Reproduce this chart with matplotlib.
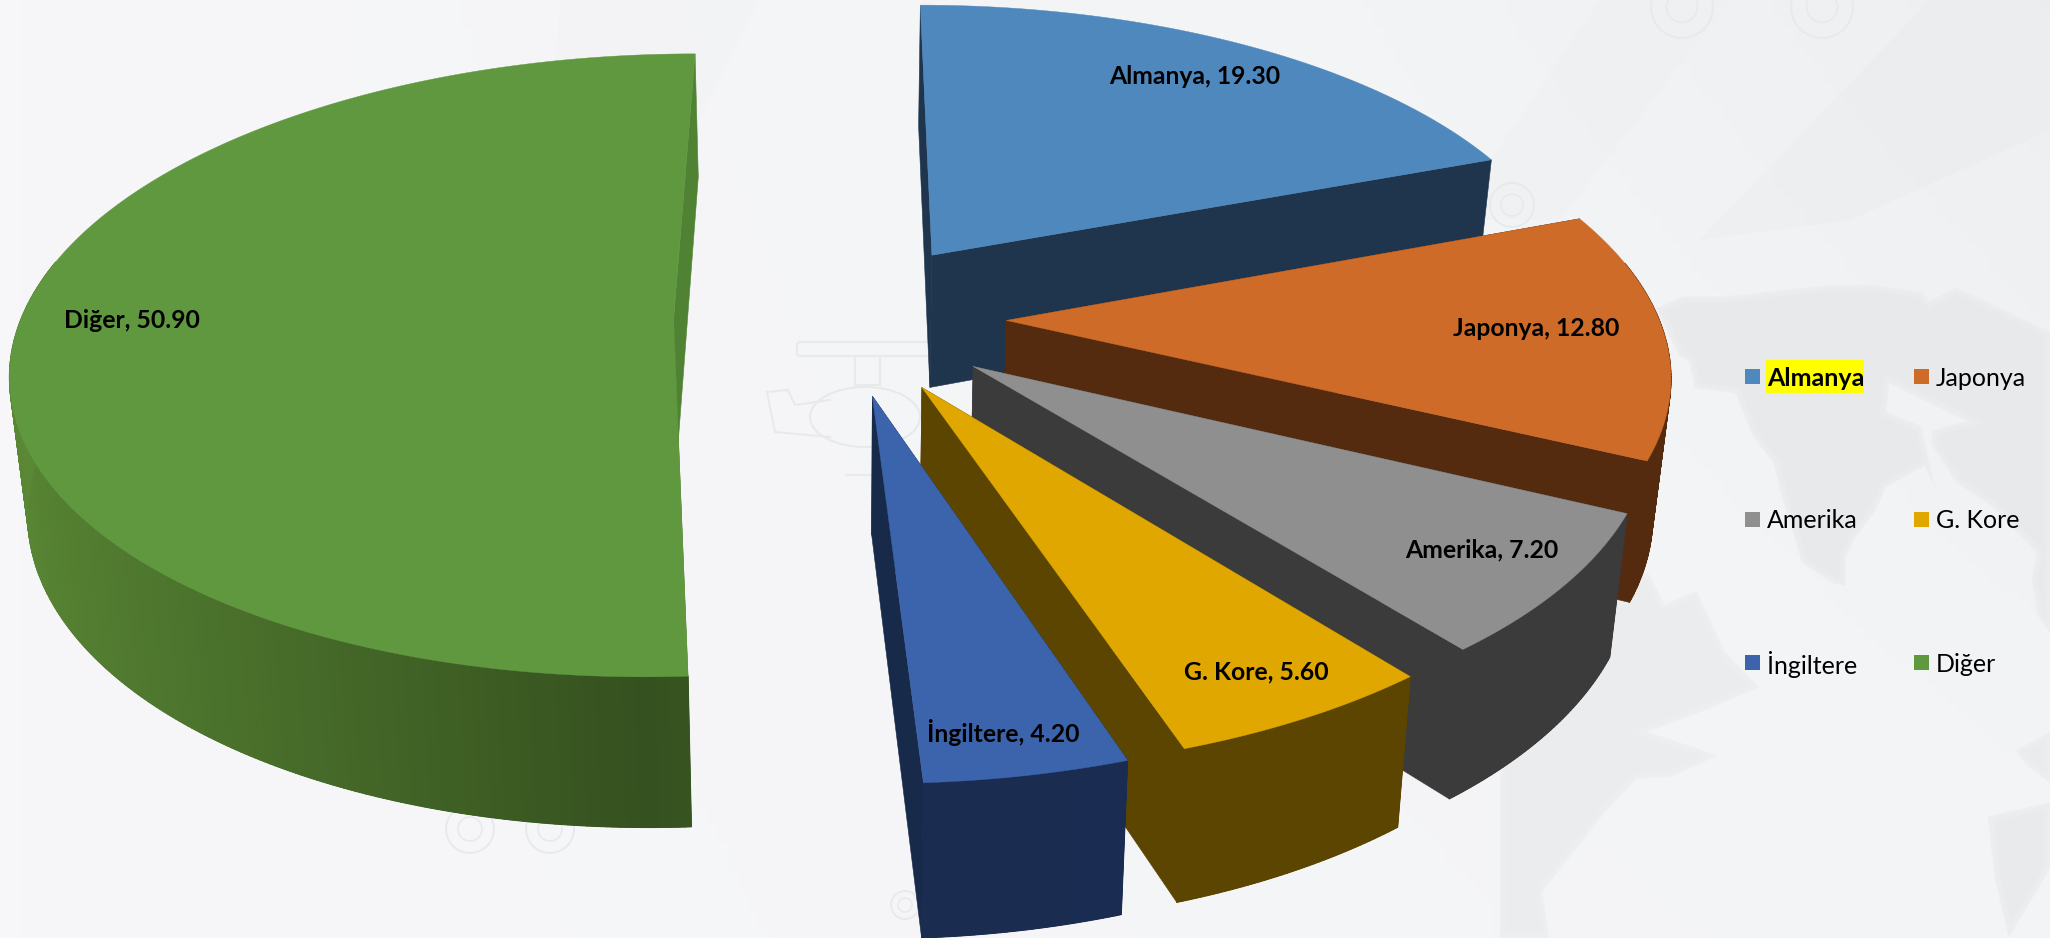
import numpy as np
import matplotlib
matplotlib.use('Agg')
import matplotlib.pyplot as plt
from matplotlib.collections import PolyCollection
from matplotlib.colors import to_rgb, LinearSegmentedColormap
from matplotlib.patches import Circle, FancyBboxPatch, Ellipse, Polygon, Rectangle

plt.rcParams['font.family'] = ['Lato', 'DejaVu Sans']

# Share of each country
categories = ['Almanya', 'Japonya', 'Amerika', 'G. Kore', 'İngiltere', 'Diğer']
values = [19.30, 12.80, 7.20, 5.60, 4.20, 50.90]

top_colors = ['#4F88BC', '#CE6B28', '#8F8F8F', '#DFA700', '#3C64AC', '#60983F']
wall_dark = ['#1F354E', '#552B10', '#3B3B3B', '#5C4500', '#1A2C50', '#35511F']
wall_light = ['#1F354E', '#552B10', '#3B3B3B', '#5C4500', '#1B2D52', '#5A8835']
radial_colors = ['#1F354E', '#552B10', '#3B3B3B', '#5C4500', '#172A4A', '#508234']

# Label anchors and legend slots, in pixels
label_xy = [(1195, 76), (1536, 328), (1482, 550), (1256, 672), (1003, 733), (132, 320)]
legend_x = [1745, 1914, 1745, 1914, 1745, 1914]
legend_y = [377, 377, 520, 520, 663, 663]

# Pie geometry: ground plane to screen
CX, CY = 840, 317
RX, RY = 652, 304
PERSP = 0.148
EXPLODE = 0.255
DEPTH = 135
LEAN = 0.022


def project(gx, gy):
    w = 1 + PERSP * gy
    return CX + RX * gx / w, CY - RY * gy / w, w


def drop(x, y, w):
    """ Bottom-face point below a top-face point """
    return x + (CX - x) * LEAN, y + DEPTH / w ** 0.68


def slice_points(start, end):
    """ Apex and outer arc of one slice, angles in degrees clockwise from north """
    mid = np.radians((start + end) / 2)
    ax, ay = EXPLODE * np.sin(mid), EXPLODE * np.cos(mid)
    theta = np.radians(np.linspace(start, end, int((end - start) * 2) + 2))
    apex = project(ax, ay)
    arc = project(ax + np.sin(theta), ay + np.cos(theta))
    return apex, arc, theta


def draw_slice(ax, start, end, top, dark, light, radial):
    apex, arc, theta = slice_points(start, end)
    ax_x, ax_y, ax_w = apex
    x, y, w = arc
    bx, by = drop(x, y, w)
    abx, aby = drop(ax_x, ax_y, ax_w)

    # radial walls go first, the rim and the top face are painted over them
    for i in (-1, 0):
        wall = [(ax_x, ax_y), (x[i], y[i]), (bx[i], by[i]), (abx, aby)]
        ax.add_patch(Polygon(wall, closed=True, fc=radial, ec=radial, lw=0.4))

    # only the part of the rim that faces the viewer
    front = np.cos(theta) < 0.2
    if front.sum() > 1:
        c0, c1 = np.array(to_rgb(dark)), np.array(to_rgb(light))
        rim = list(zip(x[front], y[front])) + list(zip(bx[front][::-1], by[front][::-1]))
        ax.add_patch(Polygon(rim, closed=True, fc=(c0 + c1) / 2, ec=(c0 + c1) / 2, lw=0.3))
        quads = []
        shades = []
        idx = np.where(front)[0]
        for i in idx[:-1]:
            quads.append([(x[i], y[i]), (x[i + 1], y[i + 1]), (bx[i + 1], by[i + 1]), (bx[i], by[i])])
            t = abs(np.sin((theta[i] + theta[i + 1]) / 2))
            shades.append(c0 + (c1 - c0) * t)
        ax.add_collection(PolyCollection(quads, facecolors=shades, edgecolors=shades, linewidths=0.8))

    outline = [(ax_x, ax_y)] + list(zip(x, y))
    ax.add_patch(Polygon(outline, closed=True, fc=top, ec=top, lw=0.3))


def sheet(points):
    """ Map sheet units to pixels """
    return [(1500 + px / 2.85, 200 + py / 2.125) for px, py in points]


def draw_background(ax):
    shade = LinearSegmentedColormap.from_list('paper', ['#F7F7F9', '#F3F4F6', '#E9EAEC'])
    xx, yy = np.meshgrid(np.linspace(0, 1, 200), np.linspace(0, 1, 100))
    ax.imshow(0.45 * xx + 0.3 * (1 - yy) * xx, extent=(0, 2050, 938, 0), cmap=shade, vmin=0, vmax=1,
              aspect='auto', zorder=0)

    # soft diagonal sweeps
    for pts, col in [([(1600, 0), (1730, 0), (1560, 220), (1450, 220)], '#EDEEF0'),
                     ([(1930, 0), (2050, 0), (2050, 130), (1850, 220), (1700, 240)], '#E7E9EA'),
                     ([(560, 0), (760, 0), (640, 240), (540, 300)], '#F0F1F3'),
                     ([(260, 938), (420, 700), (640, 830), (500, 938)], '#F7F7F9')]:
        ax.add_patch(Polygon(pts, closed=True, fc=col, ec='none', alpha=0.3, zorder=0.5))

    # land masses with a feathered edge, the southern ones paler
    land = [
        [(445, 230), (520, 205), (640, 205), (950, 180), (1060, 180), (1200, 195), (1225, 215), (1300, 185),
         (1568, 280), (1568, 920), (1530, 880), (1515, 800), (1530, 750), (1400, 650), (1300, 600), (1230, 520),
         (1230, 490), (1330, 470), (1110, 390), (1100, 450), (1200, 480), (1240, 610), (1210, 565), (1100, 610),
         (1070, 660), (1010, 720), (985, 760), (985, 820), (950, 815), (860, 770), (800, 620), (780, 560),
         (720, 500), (670, 410), (555, 400), (540, 345), (510, 330)],
        [(340, 850), (420, 790), (470, 860), (560, 830), (640, 960), (740, 1035), (600, 1080), (420, 1130),
         (620, 1180), (490, 1225), (390, 1230), (300, 1300), (120, 1470), (140, 1568), (0, 1568), (0, 850)],
        [(1390, 1310), (1568, 1280), (1568, 1420), (1450, 1568), (1410, 1440)],
        [(1470, 1170), (1568, 1130), (1568, 1240), (1500, 1200)],
    ]
    land_alpha = [0.8, 0.6, 0.7, 0.6]
    for pts, alpha in zip(land, land_alpha):
        ax.add_patch(Polygon(sheet(pts), closed=True, fc='#E6E7E9', ec='none', alpha=alpha, zorder=0.6))
        for lw in (9, 5, 2):
            ax.add_patch(Polygon(sheet(pts), closed=True, fc='none', ec='#F3F4F6', lw=lw, alpha=0.22, zorder=0.62))

    # faint helicopter outline
    line = '#E8E9EB'
    ax.add_patch(FancyBboxPatch((800, 345), 128, 8, boxstyle='round,pad=3', fc='none', ec=line, lw=1.5, zorder=0.7))
    ax.add_patch(Ellipse((865, 417), 110, 60, fc='none', ec=line, lw=1.5, zorder=0.7))
    ax.plot([767, 788, 795, 830], [392, 390, 405, 400], color=line, lw=1.5, zorder=0.7)
    ax.plot([767, 775, 830], [392, 432, 437], color=line, lw=1.5, zorder=0.7)
    ax.plot([855, 855, 880, 880], [358, 385, 385, 358], color=line, lw=1.5, zorder=0.7)
    ax.plot([846, 880], [475, 475], color=line, lw=1.5, zorder=0.7)

    # faint wheel outlines
    for cx, cy, r in [(470, 829, 24), (550, 829, 24), (1682, 7, 31), (1822, 7, 31), (1512, 205, 22), (905, 905, 14)]:
        ax.add_patch(Circle((cx, cy), r, fc='none', ec=line, lw=1.4, zorder=0.7))
        ax.add_patch(Circle((cx, cy), r * 0.5, fc='none', ec=line, lw=1.2, zorder=0.7))


fig = plt.figure(figsize=(20.5, 9.38), dpi=100)
ax = fig.add_axes([0, 0, 1, 1])
ax.set_xlim(0, 2050)
ax.set_ylim(938, 0)
ax.axis('off')

draw_background(ax)

# Cumulative angles, first slice starts at north and runs clockwise
angles = np.concatenate([[0], np.cumsum(values)]) / np.sum(values) * 360

# Far slice first so the nearer ones cover it
order = [5, 0, 1, 2, 3, 4]
for i in order:
    draw_slice(ax, angles[i], angles[i + 1], top_colors[i], wall_dark[i], wall_light[i], radial_colors[i])

for i, name in enumerate(categories):
    ax.text(label_xy[i][0], label_xy[i][1], '%s, %.2f' % (name, values[i]), ha='center', va='center',
            fontsize=17.8, fontweight='bold', color='black', zorder=5)

# Legend
for i, name in enumerate(categories):
    ax.add_patch(Rectangle((legend_x[i], legend_y[i] - 7.5), 15, 15, fc=top_colors[i], ec='none', zorder=5))
    if i == 0:
        ax.add_patch(Rectangle((1766, 360), 98, 33, fc='#FFFF00', ec='none', zorder=5))
    ax.text(legend_x[i] + 22, legend_y[i] + 1, name, ha='left', va='center', fontsize=18,
            fontweight='bold' if i == 0 else 'normal', color='black', zorder=6)

fig.savefig('out.png', dpi=100)
